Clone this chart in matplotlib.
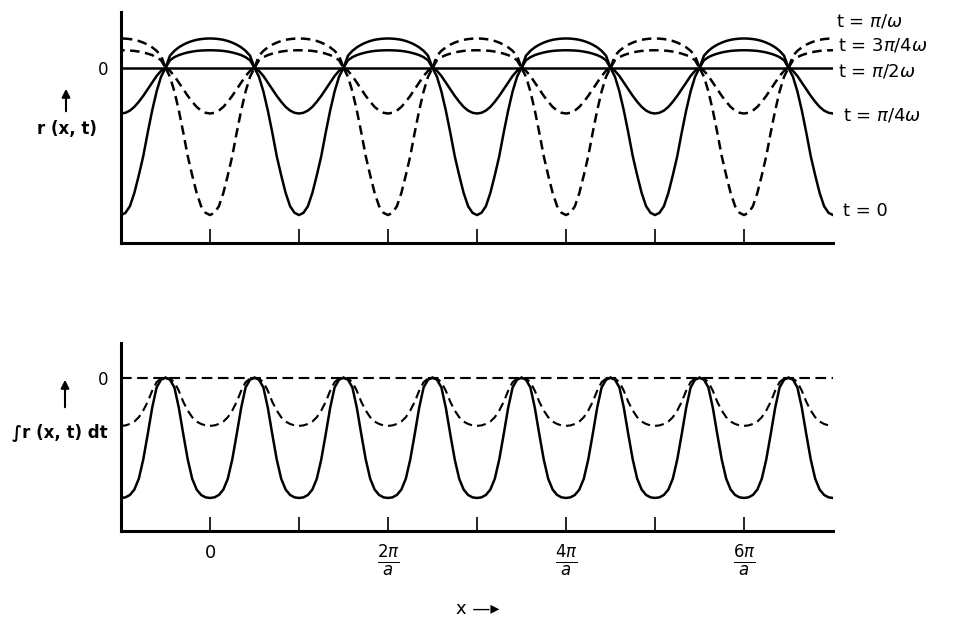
import numpy as np
import matplotlib
matplotlib.use("Agg")
import matplotlib.pyplot as plt

# ---------------- data ----------------
# x in units of pi/a ; troughs at integer multiples, crossings at half-integers
period_centres = [-1, 0, 1, 2, 3, 4, 5, 6, 7]
# offsets from a period centre (units of pi/a), half a period
offsets = [0.0, 0.05, 0.10, 0.15, 0.20, 0.25, 0.30, 0.35, 0.40, 0.45, 0.50]

# r(x,t) over half a period (centre -> crossing), units: t=0 trough = -1
r_t0 = [-1.00, -0.985, -0.94, -0.85, -0.73, -0.60, -0.44, -0.29, -0.16, -0.06, 0.0]
r_pi4 = [-0.31, -0.305, -0.29, -0.265, -0.23, -0.19, -0.145, -0.10, -0.055, -0.02, 0.0]
r_pi2 = [0.0, 0.0, 0.0, 0.0, 0.0, 0.0, 0.0, 0.0, 0.0, 0.0, 0.0]
r_3pi4 = [0.12, 0.1195, 0.118, 0.1155, 0.111, 0.105, 0.097, 0.087, 0.073, 0.052, 0.0]
r_pi = [0.20, 0.199, 0.196, 0.191, 0.183, 0.172, 0.158, 0.140, 0.116, 0.083, 0.0]

# integral of r over t, over half a period
int_solid = [-1.00, -0.995, -0.975, -0.93, -0.84, -0.68, -0.47, -0.25, -0.08, -0.015, 0.0]
int_dashed = [-0.40, -0.396, -0.384, -0.364, -0.328, -0.272, -0.20, -0.108, -0.036, -0.006, 0.0]
int_zero = [0.0, 0.0, 0.0, 0.0, 0.0, 0.0, 0.0, 0.0, 0.0, 0.0, 0.0]

tick_pos = [0, 1, 2, 3, 4, 5, 6]
tick_labels = ['0', '', r'$\frac{2\pi}{a}$', '', r'$\frac{4\pi}{a}$', '', r'$\frac{6\pi}{a}$']

curve_labels = [r't = $\pi/\omega$', r't = 3$\pi/4\omega$', r't = $\pi/2\omega$',
                r't = $\pi/4\omega$', 't = 0']

# ---------------- drawing ----------------
W, H = 961, 625
fig = plt.figure(figsize=(W / 100, H / 100), dpi=100)
plt.rcParams['font.family'] = ['DejaVu Sans']
plt.rcParams['mathtext.fontset'] = 'dejavusans'

def fx(px):
    return px / W

def fy(py):
    return 1 - py / H

ax1 = fig.add_axes([fx(121), fy(243), fx(833) - fx(121), fy(12) - fy(243)])
ax2 = fig.add_axes([fx(121), fy(531), fx(833) - fx(121), fy(343) - fy(531)])

LW = 1.8
DASH = (0, (3.8, 2.2))
off = np.array(offsets)

def period_xy(k, vals):
    v = np.array(vals)
    xs = np.concatenate([k - off[::-1], k + off[1:]])
    ys = np.concatenate([v[::-1], v[1:]])
    return xs, ys

# top panel: styles alternate per period
for k in period_centres:
    low_style = '-' if k % 2 else DASH
    arch_style = DASH if k % 2 else '-'
    for vals in (r_t0, r_pi4):
        xs, ys = period_xy(k, vals)
        ax1.plot(xs, ys, color='black', lw=LW, linestyle=low_style, solid_capstyle='round')
    for vals in (r_3pi4, r_pi):
        xs, ys = period_xy(k, vals)
        ax1.plot(xs, ys, color='black', lw=LW, linestyle=arch_style, solid_capstyle='round')
    xs, ys = period_xy(k, r_pi2)
    ax1.plot(xs, ys, color='black', lw=LW, linestyle='-')

# bottom panel
for k in period_centres:
    xs, ys = period_xy(k, int_solid)
    ax2.plot(xs, ys, color='black', lw=LW, linestyle='-')
    xs, ys = period_xy(k, int_dashed)
    ax2.plot(xs, ys, color='black', lw=LW * 0.85, linestyle=(0, (4.2, 2.4)))
ax2.plot([period_centres[0], period_centres[-1]], [int_zero[0], int_zero[-1]],
         color='black', lw=LW * 0.85, linestyle=(0, (5.0, 2.6)))

for ax, ylim in ((ax1, (-1.19, 0.38)), (ax2, (-1.275, 0.29))):
    ax.set_xlim(-1, 7)
    ax.set_ylim(*ylim)
    ax.spines['top'].set_visible(False)
    ax.spines['right'].set_visible(False)
    ax.spines['left'].set_linewidth(2.2)
    ax.spines['bottom'].set_linewidth(2.2)
    ax.set_xticks(tick_pos)
    ax.tick_params(axis='x', direction='in', length=10, width=1.2)
    ax.set_yticks([0])
    ax.set_yticklabels(['0'], fontsize=12)
    ax.tick_params(axis='y', length=0, pad=9)
    ax.patch.set_alpha(0)

ax1.set_xticklabels([''] * len(tick_pos))
ax2.set_xticklabels(tick_labels, fontsize=17, va='top')
for t in ax2.get_xticklabels():
    if t.get_text() == '0':
        t.set_fontsize(13)
ax2.tick_params(axis='x', pad=9)

# right-hand curve labels
label_pos = [(836, 22), (838, 46), (838, 72), (843, 116), (843, 211)]
for (px, py), lab in zip(label_pos, curve_labels):
    fig.text(fx(px), fy(py), lab, fontsize=13, ha='left', va='center')

# y labels with arrows
fig.add_artist(matplotlib.patches.FancyArrowPatch(
    (fx(66), fy(114)), (fx(66), fy(86)), transform=fig.transFigure,
    arrowstyle='-|>', mutation_scale=12, color='black', lw=1.5))
fig.text(fx(67), fy(129), 'r (x, t)', fontsize=12, ha='center', va='center', fontweight='bold')

fig.add_artist(matplotlib.patches.FancyArrowPatch(
    (fx(65), fy(410)), (fx(65), fy(377)), transform=fig.transFigure,
    arrowstyle='-|>', mutation_scale=12, color='black', lw=1.5))
fig.text(fx(60), fy(432), '\u222br (x, t) dt', fontsize=12, ha='center', va='center', fontweight='bold')

fig.text(fx(478), fy(609), 'x \u2014\u25b8', fontsize=13, ha='center', va='center')

fig.savefig('out.png', dpi=100)
